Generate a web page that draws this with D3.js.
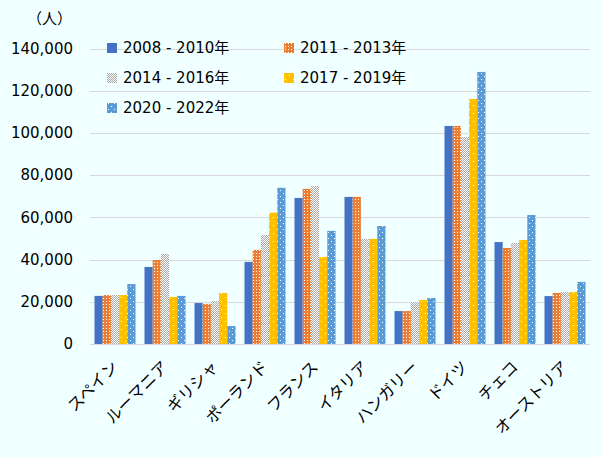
<!DOCTYPE html>
<html>
<head>
<meta charset="utf-8">
<script src="https://cdn.jsdelivr.net/npm/d3@7"></script>
<style>
  body { margin: 0; background: #F0FFFF; }
  svg { display: block; font-family: "DejaVu Sans", "Noto Sans CJK JP", sans-serif; }
</style>
</head>
<body>
<svg id="chart" width="602" height="457"></svg>
<script>
const categories = ['スペイン', 'ルーマニア', 'ギリシャ', 'ポーランド', 'フランス', 'イタリア', 'ハンガリー', 'ドイツ', 'チェコ', 'オーストリア']
const seriesNames = ['2008 - 2010年', '2011 - 2013年', '2014 - 2016年', '2017 - 2019年', '2020 - 2022年']
const s2008 = [22800, 36500, 19400, 38900, 69200, 69700, 15600, 103300, 48300, 22700]
const s2011 = [23200, 39800, 19000, 44600, 73500, 69700, 15600, 103300, 45500, 24200]
const s2014 = [23200, 42700, 20400, 51700, 74900, 49800, 19900, 98100, 47900, 24600]
const s2017 = [23200, 22300, 24200, 62200, 41200, 49800, 20900, 116100, 49300, 24600]
const s2020 = [28400, 22800, 8500, 74000, 53600, 55900, 21800, 128900, 61100, 29400]
const yTicks = [0, 20000, 40000, 60000, 80000, 100000, 120000, 140000]

const series = [s2008, s2011, s2014, s2017, s2020]
const fills = ['#4472C4', 'url(#p-orange)', 'url(#p-gray)', 'url(#p-yellow)', 'url(#p-blue)']

const svg = d3.select('#chart')
const defs = svg.append('defs')

// small dotted / checkered fills like the original
const addPattern = (id, w, h, bg, dots, dotColor) => {
	const p = defs.append('pattern')
		.attr('id', id)
		.attr('patternUnits', 'userSpaceOnUse')
		.attr('width', w).attr('height', h)
	p.append('rect').attr('width', w).attr('height', h).attr('fill', bg)
	dots.forEach(([x, y, dw, dh]) => {
		p.append('rect').attr('x', x).attr('y', y)
			.attr('width', dw).attr('height', dh).attr('fill', dotColor)
	})
}
addPattern('p-orange', 3, 3, '#ED7D31', [[1, 1, 1, 1]], '#fff')
addPattern('p-gray', 2, 2, '#A5A5A5', [[0, 0, 1, 1], [1, 1, 1, 1]], '#fff')
addPattern('p-yellow', 8, 8, '#FFC000', [[1, 1, 1, 1], [5, 5, 1, 1]], '#fff')
addPattern('p-blue', 6, 6, '#5B9BD5', [[1, 1, 1, 1], [4, 4, 1, 1]], '#fff')

const x = d3.scaleBand()
	.domain(categories)
	.range([90, 590])
	.paddingInner(0.18)
	.paddingOuter(0.09)

const xs = d3.scaleBand()
	.domain(d3.range(series.length))
	.range([0, x.bandwidth()])

const y = d3.scaleLinear()
	.domain([0, 140000])
	.range([344, 48.5])

// gridlines
svg.append('g')
	.selectAll('line')
	.data(yTicks)
	.join('line')
		.attr('x1', 90).attr('x2', 590)
		.attr('y1', (d) => Math.round(y(d)) + 0.5)
		.attr('y2', (d) => Math.round(y(d)) + 0.5)
		.attr('stroke', '#D9D9D9')
		.attr('stroke-width', 1)

// y axis labels
const yAxis = svg.append('g')
	.attr('transform', 'translate(73,0)')
	.call(d3.axisLeft(y).tickValues(yTicks).tickSize(0).tickPadding(0)
		.tickFormat(d3.format(',')))
yAxis.select('.domain').remove()
yAxis.selectAll('text')
	.attr('font-size', 15)
	.attr('fill', '#000')
	.attr('font-family', '"DejaVu Sans", sans-serif')

svg.append('text')
	.attr('x', 27).attr('y', 24)
	.attr('font-size', 15)
	.attr('font-family', '"Noto Sans CJK JP", sans-serif')
	.text('（人）')

// bars
svg.append('g')
	.selectAll('g')
	.data(series)
	.join('g')
		.attr('fill', (d, i) => fills[i])
	.selectAll('rect')
	.data((d, i) => d.map((v, j) => ({ v, i, c: categories[j] })))
	.join('rect')
		.attr('x', (d) => x(d.c) + xs(d.i))
		.attr('y', (d) => y(d.v))
		.attr('width', xs.bandwidth())
		.attr('height', (d) => y(0) - y(d.v))

// x labels
svg.append('g')
	.selectAll('text')
	.data(categories)
	.join('text')
		.attr('transform', (d) => `translate(${x(d) + x.bandwidth() / 2 + 4},368) rotate(-45)`)
		.attr('text-anchor', 'end')
		.attr('font-size', 16)
		.attr('font-family', '"Noto Sans CJK JP", sans-serif')
		.attr('fill', '#000')
		.text((d) => d)

// legend
const legend = svg.append('g')
	.selectAll('g')
	.data(seriesNames)
	.join('g')
		.attr('transform', (d, i) => `translate(${i % 2 ? 284 : 107},${48 + Math.floor(i / 2) * 30})`)
legend.append('rect')
	.attr('x', 0).attr('y', -5)
	.attr('width', 10).attr('height', 10)
	.attr('fill', (d, i) => fills[i])
legend.append('text')
	.attr('x', 16).attr('y', 0)
	.attr('dy', '0.35em')
	.attr('font-size', 15)
	.attr('fill', '#000')
	.text((d) => d)
</script>
</body>
</html>
